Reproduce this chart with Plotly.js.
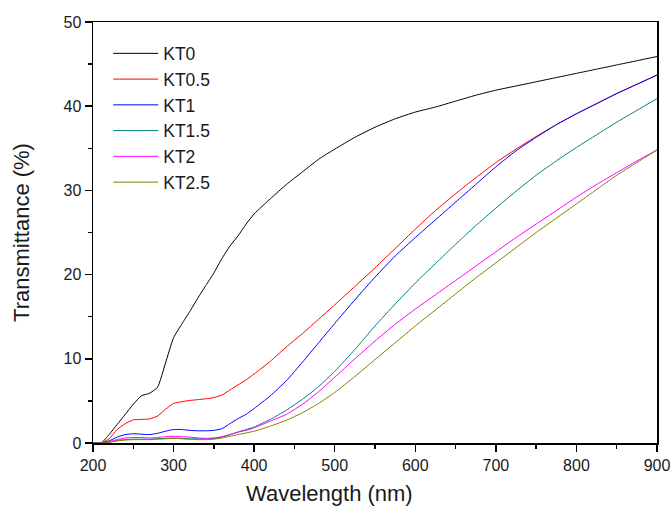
<!DOCTYPE html>
<html>
<head>
<meta charset="utf-8">
<script src="https://cdn.plot.ly/plotly-3.0.1.min.js"></script>
<style>html,body{margin:0;padding:0;background:#fff;}#chart{width:672px;height:506px;}</style>
</head>
<body>
<div id="chart"></div>
<script>
// Wavelength grid (nm)
const wavelength = [200,210,220,230,240,250,260,270,280,290,300,310,320,330,340,350,360,370,380,390,400,420,440,460,480,500,525,550,575,600,625,650,675,700,725,750,775,800,825,850,875,900];

// Transmittance (%) for each sample
const KT0   = [0,0,1.0,2.2,3.4,4.6,5.6,5.9,6.6,9.5,12.5,14.1,15.6,17.2,18.7,20.2,21.9,23.4,24.6,26.0,27.2,29.0,30.7,32.2,33.7,34.9,36.3,37.5,38.5,39.3,39.9,40.6,41.3,41.9,42.4,42.9,43.4,43.9,44.4,44.9,45.4,45.9];
const KT0_5 = [0,0,0.5,1.6,2.3,2.75,2.8,2.85,3.2,4.0,4.7,4.9,5.05,5.15,5.25,5.4,5.7,6.3,6.9,7.5,8.2,9.7,11.4,13.0,14.7,16.4,18.6,20.8,23.1,25.4,27.6,29.6,31.5,33.3,34.9,36.4,37.8,39.1,40.3,41.5,42.6,43.7];
const KT1   = [0,0,0.25,0.7,1.0,1.1,1.05,1.0,1.15,1.4,1.6,1.6,1.5,1.45,1.45,1.5,1.7,2.3,2.9,3.4,4.1,5.6,7.4,9.6,11.9,14.2,17.0,19.7,22.2,24.4,26.5,28.6,30.7,32.8,34.7,36.3,37.8,39.1,40.3,41.5,42.6,43.7];
const KT1_5 = [0,0,0.1,0.3,0.4,0.45,0.45,0.45,0.5,0.55,0.6,0.55,0.5,0.5,0.5,0.55,0.7,1.0,1.3,1.6,1.9,2.8,3.9,5.2,6.7,8.5,11.1,13.9,16.5,19.0,21.3,23.6,25.8,27.9,29.9,31.8,33.5,35.1,36.6,38.1,39.5,40.9];
const KT2   = [0,0,0.15,0.4,0.6,0.65,0.65,0.6,0.65,0.75,0.8,0.75,0.7,0.6,0.55,0.6,0.75,1.0,1.3,1.5,1.8,2.6,3.4,4.6,6.1,7.8,10.0,12.1,14.1,15.9,17.6,19.3,21.0,22.7,24.4,26.0,27.6,29.2,30.7,32.1,33.5,34.8];
const KT2_5 = [0,0,0.1,0.25,0.35,0.4,0.4,0.4,0.45,0.5,0.55,0.5,0.45,0.4,0.4,0.45,0.6,0.8,1.0,1.2,1.4,2.0,2.7,3.6,4.7,6.0,7.9,9.9,11.9,13.9,15.8,17.7,19.6,21.4,23.2,25.0,26.7,28.4,30.1,31.8,33.3,34.8];

const names  = ['KT0','KT0.5','KT1','KT1.5','KT2','KT2.5'];
const series = [KT0, KT0_5, KT1, KT1_5, KT2, KT2_5];
const colors = ['#000000','#ff0000','#0000ff','#008080','#ff00ff','#808000'];

const xTicks = [200,300,400,500,600,700,800,900];
const yTicks = [0,10,20,30,40,50];

const traces = series.map((s,i) => ({
  x: wavelength, y: s, name: names[i], type: 'scatter', mode: 'lines',
  line: {color: colors[i], width: 1, shape: 'spline', smoothing: 0.5}
}));

const font = {family: 'Liberation Sans, Arial, sans-serif', color: '#1a1a1a'};

const layout = {
  width: 672, height: 506,
  margin: {l: 93, r: 15, t: 22, b: 63},
  paper_bgcolor: '#fff', plot_bgcolor: '#fff',
  showlegend: true,
  legend: {x: 0.027, y: 0.968, xanchor: 'left', yanchor: 'top', itemwidth: 45,
           font: Object.assign({}, font, {size: 17.5}), bgcolor: 'rgba(0,0,0,0)',
           borderwidth: 0, tracegroupgap: 0},
  xaxis: {
    range: [200, 900], tickmode: 'array', tickvals: xTicks, ticktext: xTicks.map(String),
    ticks: 'outside', ticklen: 7, tickwidth: 1.5, tickcolor: '#000',
    minor: {dtick: 50, tick0: 200, ticks: 'outside', ticklen: 4, tickwidth: 1.5, tickcolor: '#000'},
    showline: true, linecolor: '#000', linewidth: 1.5, mirror: true,
    showgrid: false, zeroline: false,
    tickfont: Object.assign({}, font, {size: 16})
  },
  yaxis: {
    range: [0, 50], tickmode: 'array', tickvals: yTicks, ticktext: yTicks.map(String),
    ticks: 'outside', ticklen: 7, tickwidth: 1.5, tickcolor: '#000',
    minor: {dtick: 5, tick0: 0, ticks: 'outside', ticklen: 4, tickwidth: 1.5, tickcolor: '#000'},
    showline: true, linecolor: '#000', linewidth: 1.5, mirror: true,
    showgrid: false, zeroline: false,
    tickfont: Object.assign({}, font, {size: 16}),
    title: {text: 'Transmittance (%)', font: Object.assign({}, font, {size: 22}), standoff: 28}
  },
  annotations: [{
    text: 'Wavelength (nm)', xref: 'paper', yref: 'paper', x: 0.42, y: -0.119,
    xanchor: 'center', yanchor: 'middle', showarrow: false,
    font: Object.assign({}, font, {size: 22})
  }]
};

Plotly.newPlot('chart', traces, layout, {displayModeBar: false, staticPlot: true});
</script>
</body>
</html>
